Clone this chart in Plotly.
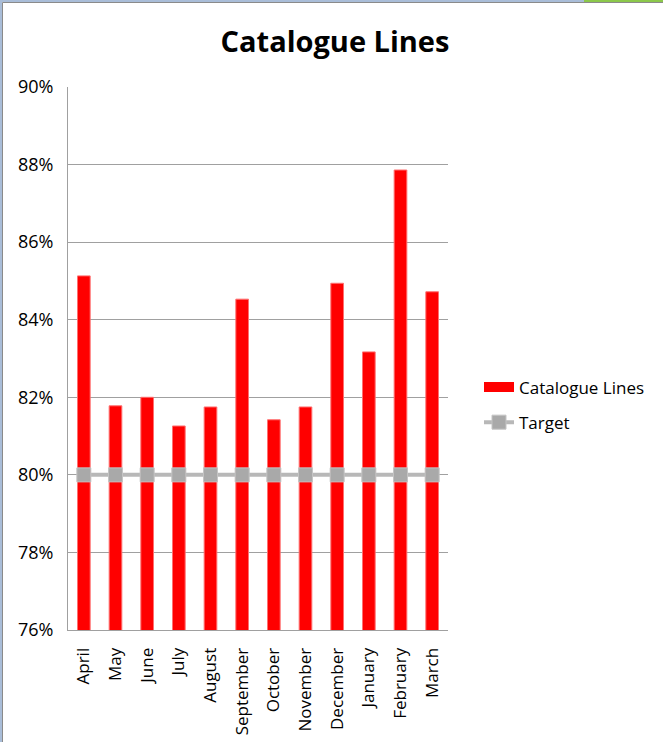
import plotly.graph_objects as go

months = ["April", "May", "June", "July", "August", "September", "October",
          "November", "December", "January", "February", "March"]
catalogue_lines = [0.8513, 0.8178, 0.8200, 0.8126, 0.8175, 0.8453, 0.8142,
                   0.8175, 0.8494, 0.8317, 0.8786, 0.8472]
target = [0.80] * 12

W, H = 663, 742
L, R, T, B = 68, 448, 87, 630
FONT = "Open Sans"
BAR_RED = "#ff0000"

def px(x):
    return (x - L) / (R - L)

def py(y):
    return (B - y) / (B - T)

fig = go.Figure()
# legend-only entry that gives the wide red swatch Excel shows
fig.add_trace(go.Scatter(
    x=[None], y=[None], name="Catalogue Lines", legendgroup="a", mode="lines",
    line=dict(color=BAR_RED, width=11), hoverinfo="skip",
))
fig.add_trace(go.Bar(
    x=months, y=catalogue_lines, name="Catalogue Lines", legendgroup="a",
    showlegend=False,
    marker=dict(color=BAR_RED, line=dict(color="#ff7070", width=1)),
))
fig.add_trace(go.Scatter(
    x=months, y=target, name="Target", mode="lines+markers", legendgroup="b",
    line=dict(color="#b8b8b8", width=4),
    marker=dict(symbol="square", size=14, color="#a9a9a9",
                line=dict(color="#c4c4c4", width=1)),
))

shapes = [
    # window chrome
    dict(type="rect", xref="paper", yref="paper", x0=px(0), x1=px(2), y0=py(742), y1=py(0),
         fillcolor="#a9bdd8", line=dict(width=0), layer="above"),
    dict(type="rect", xref="paper", yref="paper", x0=px(0), x1=px(663), y0=py(2), y1=py(0),
         fillcolor="#a9bdd8", line=dict(width=0), layer="above"),
    dict(type="rect", xref="paper", yref="paper", x0=px(584), x1=px(663), y0=py(2), y1=py(0),
         fillcolor="#8cc84b", line=dict(width=0), layer="above"),
    dict(type="line", xref="paper", yref="paper", x0=px(2.5), x1=px(2.5), y0=py(742), y1=py(2.5),
         line=dict(color="#8a8a8a", width=1), layer="above"),
    dict(type="line", xref="paper", yref="paper", x0=px(2.5), x1=px(663), y0=py(2.5), y1=py(2.5),
         line=dict(color="#8a8a8a", width=1), layer="above"),
]

fig.update_layout(
    width=W, height=H,
    margin=dict(l=L, r=W - R, t=T, b=H - B, pad=0, autoexpand=False),
    paper_bgcolor="white", plot_bgcolor="white",
    font=dict(family=FONT, size=17, color="black"),
    title=dict(text="<b>Catalogue Lines</b>", x=335 / W, xanchor="center",
               y=1 - 42 / H, yanchor="middle",
               font=dict(family=FONT, size=29, color="black")),
    bargap=0.6,
    showlegend=True,
    legend=dict(x=px(479), y=py(405), xanchor="left", yanchor="middle",
                font=dict(family=FONT, size=17), tracegroupgap=10,
                bgcolor="rgba(0,0,0,0)"),
    shapes=shapes,
)
fig.update_yaxes(range=[0.76, 0.90], dtick=0.02, tickformat=".0%",
                 showgrid=True, gridcolor="#a0a0a0", gridwidth=1,
                 showline=True, linecolor="#a0a0a0", linewidth=1,
                 zeroline=False, ticks="", ticklabelstandoff=10, automargin=False,
                 tickfont=dict(family=FONT, size=18))
fig.update_xaxes(type="category", categoryorder="array", categoryarray=months,
                 range=[-0.5, len(months) - 0.5], automargin=False,
                 showline=True, linecolor="#a0a0a0", linewidth=1, mirror=False,
                 tickangle=-90, ticks="", ticklabelstandoff=10,
                 tickfont=dict(family=FONT, size=17))

fig.write_html(
    "out.html",
    config={"displayModeBar": False},
    post_script=(
        "document.body.style.margin='0px';"
        "document.body.style.overflow='hidden';"
        "document.documentElement.style.overflow='hidden';"
    ),
)
